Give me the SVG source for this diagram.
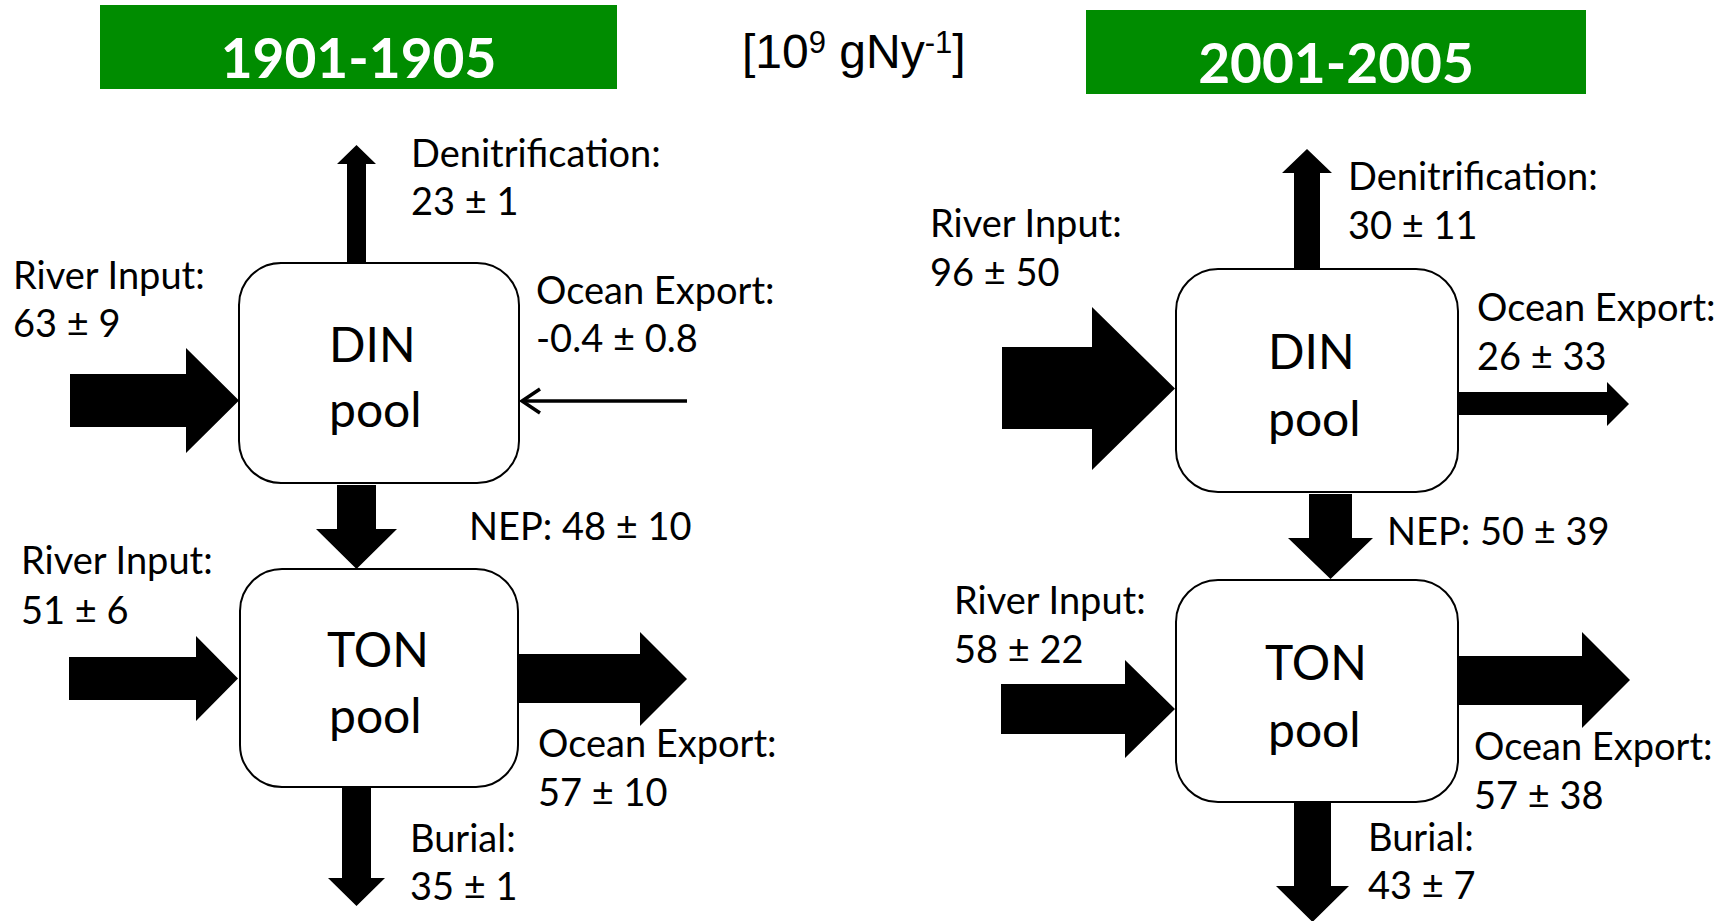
<svg xmlns="http://www.w3.org/2000/svg" width="1736" height="921" viewBox="0 0 1736 921">
<style>
.bg{fill:#ffffff}
.title-box{fill:#008c00}
.title{font-family:Lato,"Liberation Sans",sans-serif;font-weight:bold;font-size:55px;fill:#ffffff;text-anchor:middle}
.unit{font-family:"Liberation Sans",Arial,sans-serif;font-size:48px;fill:#000000}
.pool{fill:#ffffff;stroke:#000000;stroke-width:2}
.pooltxt{font-family:Lato,"Liberation Sans",sans-serif;font-size:48px;fill:#000000}
.lbl{font-family:Lato,"Liberation Sans",sans-serif;font-size:38px;fill:#000000}
.arr{fill:#000000;stroke:none}
.thin{fill:none;stroke:#000000;stroke-width:3.5}
</style>
<rect class="bg" x="0" y="0" width="1736" height="921"/>

<g id="title-1901">
<rect class="title-box" x="100" y="5" width="517" height="84"/>
<text class="title" x="358.5" y="78">1901-1905</text>
</g>
<g id="title-2001">
<rect class="title-box" x="1086" y="10" width="500" height="84"/>
<text class="title" x="1336" y="83">2001-2005</text>
</g>
<g id="unit">
<text class="unit" x="742" y="68">[10<tspan font-size="31" dy="-15">9</tspan><tspan dy="15"> gNy</tspan><tspan font-size="31" dy="-15">-1</tspan><tspan dy="15">]</tspan></text>
</g>

<g id="connectors">
<!-- 1901-1905 -->
<polygon class="arr" points="347,263 347,164 337,164 356.5,145 376,164 366,164 366,263"/>
<polygon class="arr" points="70,374 186,374 186,348 239,400.5 186,453 186,427 70,427"/>
<line class="thin" x1="687" y1="401" x2="523" y2="401"/>
<path class="thin" d="M540,389 L522,401 L540,413"/>
<polygon class="arr" points="337,485 337,529 316,529 356.5,569 397,529 376,529 376,485"/>
<polygon class="arr" points="69,657 196,657 196,636 238,678.5 196,721 196,700 69,700"/>
<polygon class="arr" points="518,654 640,654 640,632 687,679 640,726 640,703 518,703"/>
<polygon class="arr" points="342,787 342,878 328,878 356.5,906 385,878 371,878 371,787"/>
<!-- 2001-2005 -->
<polygon class="arr" points="1294,269 1294,173 1282,173 1307,149 1332,173 1320,173 1320,269"/>
<polygon class="arr" points="1002,347 1092,347 1092,307 1175,388.5 1092,470 1092,429 1002,429"/>
<polygon class="arr" points="1458,392 1607,392 1607,382 1629,404 1607,426 1607,415 1458,415"/>
<polygon class="arr" points="1309,494 1309,538 1288,538 1330.5,579 1373,538 1352,538 1352,494"/>
<polygon class="arr" points="1001,684 1125,684 1125,660 1175,709 1125,758 1125,734 1001,734"/>
<polygon class="arr" points="1458,656 1582,656 1582,632 1630,680 1582,728 1582,705 1458,705"/>
<polygon class="arr" points="1294,802 1294,886 1276,886 1312.5,922 1349,886 1331,886 1331,802"/>
</g>

<g id="din-1901">
<rect class="pool" x="239" y="263" width="280" height="220" rx="42" ry="42"/>
<text class="pooltxt" x="329" y="362">DIN</text>
<text class="pooltxt" x="329" y="427">pool</text>
</g>
<g id="ton-1901">
<rect class="pool" x="240" y="569" width="278" height="218" rx="42" ry="42"/>
<text class="pooltxt" x="327" y="667">TON</text>
<text class="pooltxt" x="329" y="733">pool</text>
</g>
<g id="din-2001">
<rect class="pool" x="1176" y="269" width="282" height="223" rx="42" ry="42"/>
<text class="pooltxt" x="1268" y="369">DIN</text>
<text class="pooltxt" x="1268" y="436">pool</text>
</g>
<g id="ton-2001">
<rect class="pool" x="1176" y="580" width="282" height="222" rx="42" ry="42"/>
<text class="pooltxt" x="1265" y="680">TON</text>
<text class="pooltxt" x="1268" y="747">pool</text>
</g>

<g id="labels">
<text class="lbl" x="411" y="167">Denitrification:</text>
<text class="lbl" x="411" y="215">23 ± 1</text>
<text class="lbl" x="13" y="289">River Input:</text>
<text class="lbl" x="13" y="337">63 ± 9</text>
<text class="lbl" x="536" y="304">Ocean Export:</text>
<text class="lbl" x="536" y="352">-0.4 ± 0.8</text>
<text class="lbl" x="469" y="540">NEP: 48 ± 10</text>
<text class="lbl" x="21" y="574">River Input:</text>
<text class="lbl" x="21" y="624">51 ± 6</text>
<text class="lbl" x="538" y="757">Ocean Export:</text>
<text class="lbl" x="538" y="806">57 ± 10</text>
<text class="lbl" x="410" y="852">Burial:</text>
<text class="lbl" x="410" y="900">35 ± 1</text>

<text class="lbl" x="1348" y="190">Denitrification:</text>
<text class="lbl" x="1348" y="239">30 ± 11</text>
<text class="lbl" x="930" y="237">River Input:</text>
<text class="lbl" x="930" y="286">96 ± 50</text>
<text class="lbl" x="1477" y="321">Ocean Export:</text>
<text class="lbl" x="1477" y="370">26 ± 33</text>
<text class="lbl" x="1387" y="545">NEP: 50 ± 39</text>
<text class="lbl" x="954" y="614">River Input:</text>
<text class="lbl" x="954" y="663">58 ± 22</text>
<text class="lbl" x="1474" y="760">Ocean Export:</text>
<text class="lbl" x="1474" y="809">57 ± 38</text>
<text class="lbl" x="1368" y="851">Burial:</text>
<text class="lbl" x="1368" y="899">43 ± 7</text>
</g>
</svg>
